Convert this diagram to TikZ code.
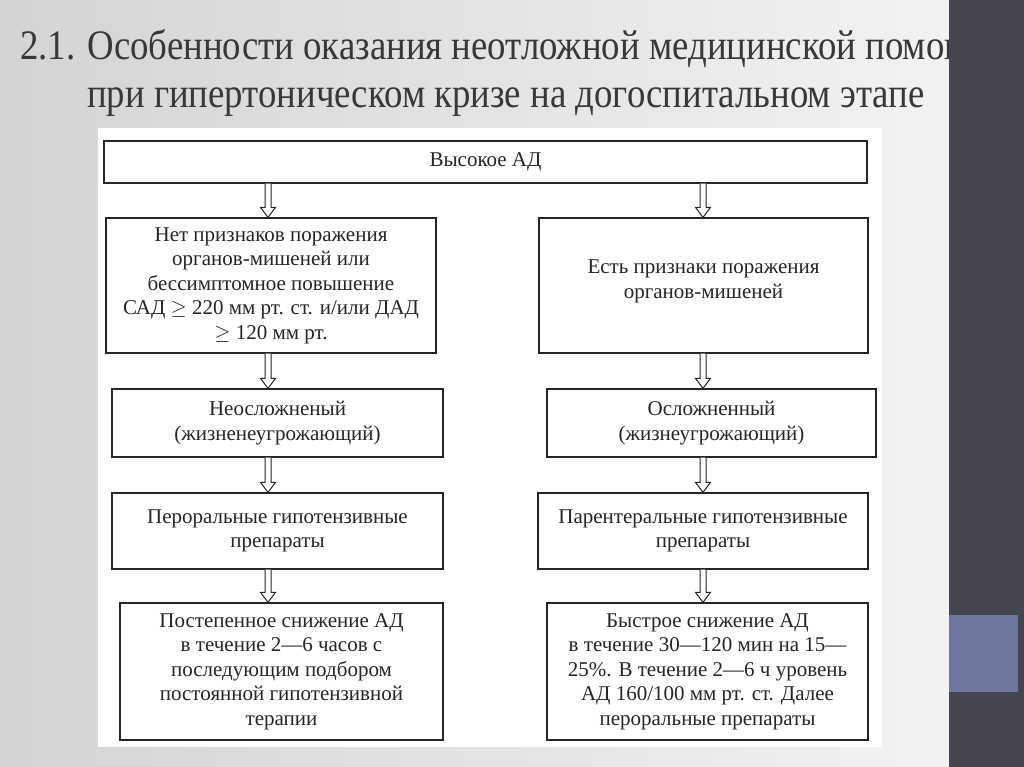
\documentclass[tikz,border=0pt]{standalone}
\usepackage{fontspec}
\setmainfont{Liberation Serif}
\usetikzlibrary{calc}

\definecolor{slidebar}{HTML}{45454F}
\definecolor{slideblue}{HTML}{6E789F}
\definecolor{inkgray}{HTML}{262626}
\definecolor{titlegray}{HTML}{383838}

\newcommand\narrowtitle[1]{\scalebox{0.876}[1]{#1}}

\tikzset{
  box/.style={draw=inkgray, line width=1.3pt, fill=white, align=center,
    inner sep=0pt, text=inkgray, font=\fontsize{21}{24.5}\selectfont},
  hollow/.style={draw=inkgray, line width=1pt, fill=white, line join=miter},
  titleline/.style={anchor=base west, inner sep=0pt, text=titlegray,
    font=\fontsize{42}{48}\selectfont},
}

% hollow double arrow: x coordinate, upper node, lower node
\newcommand\hollowdown[3]{%
  \draw[hollow] ($(#2.south -| #1)+(-3,0)$) -- ($(#3.north -| #1)+(-3,-10)$)
    -- ($(#3.north -| #1)+(-7.5,-10)$) -- (#3.north -| #1)
    -- ($(#3.north -| #1)+(7.5,-10)$) -- ($(#3.north -| #1)+(3,-10)$)
    -- ($(#2.south -| #1)+(3,0)$);}

\begin{document}
\begin{tikzpicture}[x=1pt, y=-1pt]
  \useasboundingbox (0,0) rectangle (1024,767);

  % slide background
  \shade[left color=black!17, middle color=white, right color=black!5]
    (0,0) rectangle (949,767);
  \fill[white] (98,128) rectangle (882,747);

  % title
  \node[titleline] (title1) at (20,60)
    {\narrowtitle{2.1. Особенности оказания неотложной медицинской помощи}};
  \node[titleline] (title2) at (87,108)
    {\narrowtitle{при гипертоническом кризе на догоспитальном этапе}};

  % right bar
  \fill[slidebar] (949,0) rectangle (1024,767);
  \fill[slideblue] (949,615) rectangle (1018,692);

  \coordinate (lx) at (268,0);
  \coordinate (rx) at (703,0);

  \node[box, minimum width=763, minimum height=42] (high) at (485.5,162)
    {Высокое АД};

  \node[box, minimum width=330, minimum height=135] (nodamage) at (271,285.5)
    {Нет признаков поражения\\ органов-мишеней или\\ бессимптомное повышение\\
     САД $\geq$ 220 мм рт. ст. и/или ДАД\\ $\geq$ 120 мм рт.};
  \node[box, minimum width=329, minimum height=135] (damage) at (703.5,285.5)
    {Есть признаки поражения\\ органов-мишеней\\[-12pt]};

  \node[box, minimum width=331, minimum height=68] (uncompl) at (277.5,423)
    {Неосложненый\\ (жизненеугрожающий)};
  \node[box, minimum width=329, minimum height=68] (compl) at (711.5,423)
    {Осложненный\\ (жизнеугрожающий)};

  \node[box, minimum width=331, minimum height=76] (oral) at (277.5,531)
    {Пероральные гипотензивные\\ препараты};
  \node[box, minimum width=330, minimum height=76] (parent) at (703,531)
    {Парентеральные гипотензивные\\ препараты};

  \node[box, minimum width=323, minimum height=137] (slow) at (281.5,671.5)
    {Постепенное снижение АД\\ в течение 2---6 часов с\\ последующим подбором\\
     постоянной гипотензивной\\ терапии};
  \node[box, minimum width=321, minimum height=137] (fast) at (707.5,671.5)
    {Быстрое снижение АД\\ в течение 30---120 мин на 15---\\
     25\%. В течение 2---6 ч уровень\\ АД 160/100 мм рт. ст. Далее\\
     пероральные препараты};

  \hollowdown{lx}{high}{nodamage}
  \hollowdown{rx}{high}{damage}
  \hollowdown{lx}{nodamage}{uncompl}
  \hollowdown{rx}{damage}{compl}
  \hollowdown{lx}{uncompl}{oral}
  \hollowdown{rx}{compl}{parent}
  \hollowdown{lx}{oral}{slow}
  \hollowdown{rx}{parent}{fast}
\end{tikzpicture}
\end{document}
